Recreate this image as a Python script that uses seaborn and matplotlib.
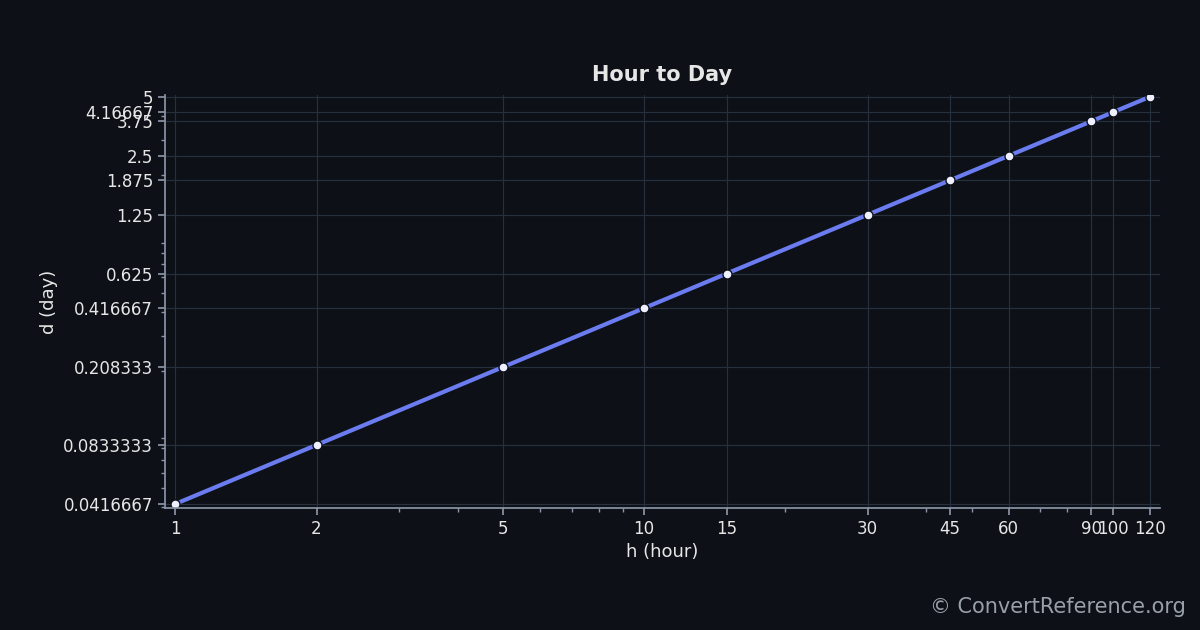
import matplotlib
matplotlib.use("Agg")
import matplotlib.pyplot as plt
import seaborn as sns
import pandas as pd
from matplotlib.ticker import FixedLocator, FixedFormatter, LogLocator, NullFormatter

hours = [1, 2, 5, 10, 15, 30, 45, 60, 90, 100, 120]
days = [0.0416667, 0.0833333, 0.208333, 0.416667, 0.625, 1.25, 1.875, 2.5, 3.75, 4.16667, 5]
xlabels = ["1", "2", "5", "10", "15", "30", "45", "60", "90", "100", "120"]
ylabels = ["0.0416667", "0.0833333", "0.208333", "0.416667", "0.625", "1.25", "1.875", "2.5", "3.75", "4.16667", "5"]

bg = "#0d1117"
fg = "#e6e6e6"
sns.set_theme(style="dark")
plt.rcParams['font.family'] = ['DejaVu Sans']

fig = plt.figure(figsize=(12, 6.3), dpi=100, facecolor=bg)
ax = fig.add_axes([0.1375, 0.194, 0.829, 0.655])
ax.set_facecolor(bg)
df = pd.DataFrame({"h": hours, "d": days})
sns.lineplot(data=df, x="h", y="d", ax=ax, color="#6b7cf0", linewidth=3,
             marker="o", markersize=6.5, markerfacecolor="#eef0ff", markeredgecolor=bg, markeredgewidth=1)
ax.set_xscale("log"); ax.set_yscale("log")
ax.set_xlim(0.95, 126)
ax.set_ylim(0.0398, 5.1)
ax.xaxis.set_major_locator(FixedLocator(hours))
ax.xaxis.set_major_formatter(FixedFormatter(xlabels))
ax.yaxis.set_major_locator(FixedLocator(days))
ax.yaxis.set_major_formatter(FixedFormatter(ylabels))
ax.xaxis.set_minor_locator(LogLocator(base=10, subs=range(2, 10)))
ax.yaxis.set_minor_locator(LogLocator(base=10, subs=range(2, 10)))
ax.xaxis.set_minor_formatter(NullFormatter()); ax.yaxis.set_minor_formatter(NullFormatter())
ax.grid(True, which="major", color="#27313e", linewidth=0.8)
ax.tick_params(axis="both", which="major", colors=fg, labelsize=12, length=5, color="#8a94a6", left=True, bottom=True)
ax.tick_params(axis="both", which="minor", color="#8a94a6", length=3, left=True, bottom=True)
for s in ["top", "right"]:
    ax.spines[s].set_visible(False)
for s in ["left", "bottom"]:
    ax.spines[s].set_color("#8a94a6")
ax.set_xlabel("h (hour)", color=fg, fontsize=13)
ax.set_ylabel("d (day)", color=fg, fontsize=13)
ax.set_title("Hour to Day", color=fg, fontsize=15, fontweight="bold", pad=10)
fig.text(0.988, 0.02, "© ConvertReference.org", color="#9aa0a8", fontsize=15, ha="right", va="bottom")
fig.savefig("out.png", facecolor=bg)
